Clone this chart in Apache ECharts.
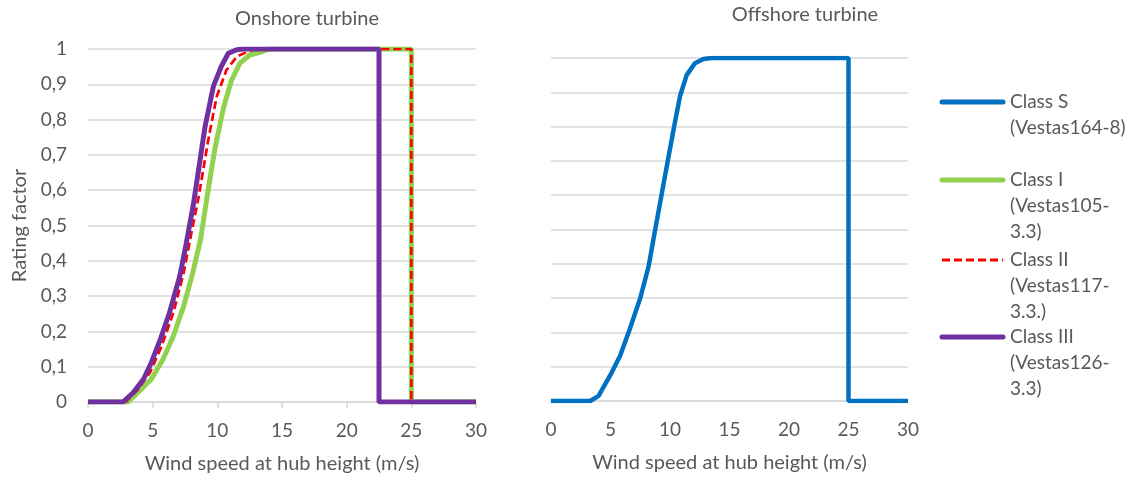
<!DOCTYPE html>
<html>
<head>
<meta charset="utf-8">
<script src="https://cdn.jsdelivr.net/npm/echarts@6/dist/echarts.min.js"></script>
<style>
  html, body { margin: 0; padding: 0; background: #fff; }
  #chart { width: 1135px; height: 479px; }
</style>
</head>
<body>
<div id="chart"></div>
<script>
// 风速 (m/s) 与 rating factor
const classS = [[0, 0], [3.3, 0], [4.0, 0.015], [4.4, 0.04], [5.1, 0.083], [5.8, 0.131], [6.6, 0.208], [7.5, 0.3], [8.2, 0.392], [8.6, 0.47], [9.6, 0.66], [10.4, 0.81], [10.85, 0.89], [11.4, 0.95], [12.1, 0.985], [12.8, 0.997], [13.5, 1], [25, 1], [25, 0], [30, 0]]
const classI = [[0, 0], [3.1, 0], [4.0, 0.032], [4.9, 0.065], [5.8, 0.121], [6.6, 0.187], [7.4, 0.272], [8.1, 0.366], [8.7, 0.46], [9.2, 0.58], [9.8, 0.715], [10.5, 0.837], [11.1, 0.912], [11.75, 0.96], [12.5, 0.983], [13.5, 0.993], [14, 1], [25, 1], [25, 0], [30, 0]]
const classII = [[0, 0], [2.9, 0], [3.9, 0.037], [4.8, 0.084], [5.7, 0.159], [6.6, 0.253], [7.4, 0.366], [8.0, 0.48], [8.55, 0.58], [9.3, 0.743], [9.95, 0.865], [10.7, 0.94], [11.5, 0.978], [12.3, 0.992], [13, 1], [25, 1], [25, 0], [30, 0]]
const classIII = [[0, 0], [2.7, 0], [3.5, 0.027], [4.3, 0.065], [4.9, 0.112], [5.6, 0.178], [6.3, 0.253], [7.1, 0.357], [7.6, 0.45], [8.15, 0.56], [9.05, 0.78], [9.7, 0.895], [10.3, 0.95], [10.85, 0.988], [11.5, 0.998], [12, 1], [22.5, 1], [22.5, 0], [30, 0]]

const titles = ['Onshore turbine', 'Offshore turbine']
const xName = 'Wind speed at hub height (m/s)'
const yName = 'Rating factor'
const legendItems = [
    { text: 'Class S\n(Vestas164-8)', color: '#0070c0', dash: false },
    { text: 'Class I\n(Vestas105-\n3.3)', color: '#92d050', dash: false },
    { text: 'Class II\n(Vestas117-\n3.3.)', color: '#ff0000', dash: true },
    { text: 'Class III\n(Vestas126-\n3.3)', color: '#7030a0', dash: false }
]
const legendTops = [102, 180, 260, 337]

const font = 'Lato, "Noto Sans", sans-serif'
const textColor = '#595959'
const gridColor = '#d9d9d9'

const chart = echarts.init(document.getElementById('chart'))

const xAxisBase = (gridIndex, showTick) => ({
    type: 'value',
    gridIndex,
    min: 0,
    max: 30,
    interval: 5,
    name: xName,
    nameLocation: 'middle',
    nameGap: 52,
    nameTextStyle: { color: textColor, fontFamily: font, fontSize: 20 },
    axisLine: { show: true, lineStyle: { color: gridColor, width: 1.5 } },
    axisTick: { show: showTick, length: 6, lineStyle: { color: gridColor, width: 1.5 } },
    axisLabel: { color: textColor, fontFamily: font, fontSize: 19, margin: 19 },
    splitLine: { show: false }
})

const yAxisBase = (gridIndex, showLabel) => ({
    type: 'value',
    gridIndex,
    min: 0,
    max: 1,
    interval: 0.1,
    name: showLabel ? yName : '',
    nameLocation: 'middle',
    nameGap: 58,
    nameTextStyle: { color: textColor, fontFamily: font, fontSize: 20 },
    axisLine: { show: false },
    axisTick: { show: false },
    axisLabel: {
        show: showLabel,
        color: textColor,
        fontFamily: font,
        fontSize: 19,
        margin: 21,
        formatter: v => String(Math.round(v * 10) / 10).replace('.', ',')
    },
    splitLine: { show: true, lineStyle: { color: gridColor, width: 1.5 } }
})

const lineSeries = (name, data, color, width, axis, dash) => ({
    name,
    type: 'line',
    data,
    xAxisIndex: axis,
    yAxisIndex: axis,
    showSymbol: false,
    symbol: 'none',
    silent: true,
    lineStyle: { color, width, type: dash ? [8, 4] : 'solid' }
})

// 手绘图例
const legendGraphic = []
legendItems.forEach((item, i) => {
    const y = legendTops[i]
    legendGraphic.push({
        type: 'line',
        shape: { x1: 942, y1: y, x2: 1003, y2: y },
        style: {
            stroke: item.color,
            lineWidth: item.dash ? 3 : 5,
            lineCap: item.dash ? 'butt' : 'round',
            lineDash: item.dash ? [8, 4] : null
        }
    })
    legendGraphic.push({
        type: 'text',
        left: 1010,
        top: y - 13,
        style: {
            text: item.text,
            fill: textColor,
            font: '19px ' + font,
            lineHeight: 26
        }
    })
})

chart.setOption({
    animation: false,
    backgroundColor: '#fff',
    title: [
        { text: titles[0], left: 302, top: 4, textAlign: 'center', textStyle: { color: textColor, fontFamily: font, fontSize: 20, fontWeight: 'normal' } },
        { text: titles[1], left: 800, top: 0, textAlign: 'center', textStyle: { color: textColor, fontFamily: font, fontSize: 20, fontWeight: 'normal' } }
    ],
    grid: [
        { left: 88, top: 49, width: 388, height: 354 },
        { left: 551, top: 58, width: 357, height: 343 }
    ],
    xAxis: [xAxisBase(0, true), xAxisBase(1, false)],
    yAxis: [yAxisBase(0, true), yAxisBase(1, false)],
    series: [
        lineSeries('Class I', classI, '#92d050', 5, 0, false),
        lineSeries('Class II', classII, '#ff0000', 2.7, 0, true),
        lineSeries('Class III', classIII, '#7030a0', 5, 0, false),
        lineSeries('Class S', classS, '#0070c0', 4.5, 1, false)
    ],
    graphic: legendGraphic
})
</script>
</body>
</html>
